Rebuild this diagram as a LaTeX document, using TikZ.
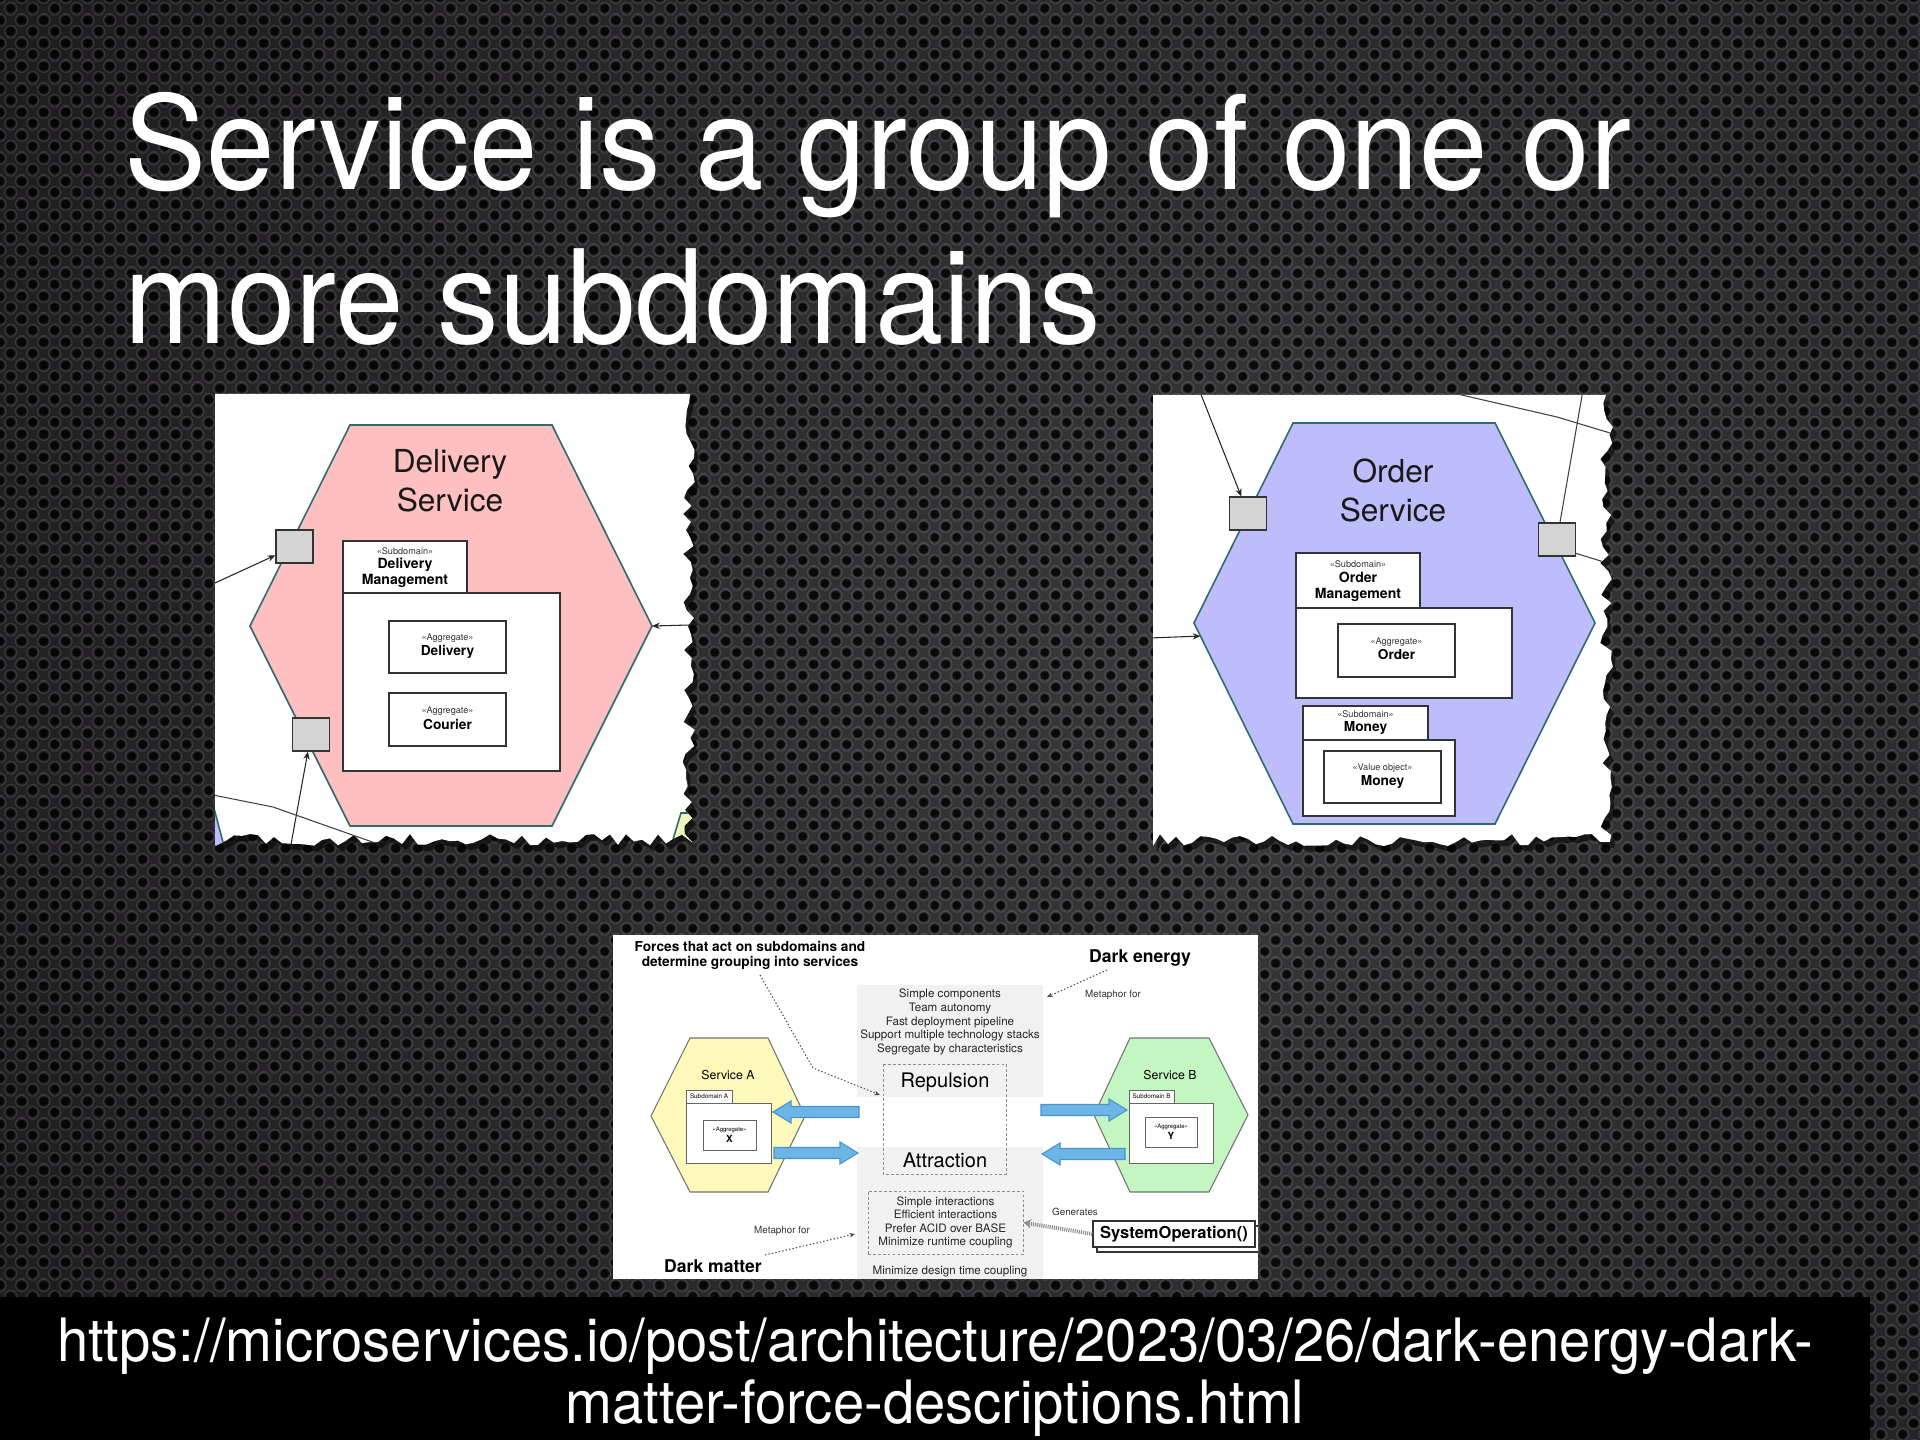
\documentclass[tikz,border=0pt]{standalone}
\usepackage{fontspec}
\setmainfont{TeX Gyre Heros}
\newfontfamily\slidefont[FakeStretch=0.945]{TeX Gyre Heros}
\newfontfamily\linkfont[FakeStretch=0.94]{TeX Gyre Heros}
\usetikzlibrary{arrows.meta,calc,patterns}

\definecolor{bgmid}{HTML}{3A3A3D}
\definecolor{bgedge}{HTML}{0E0B0D}
\definecolor{delpink}{HTML}{FDBFBF}
\definecolor{ordlav}{HTML}{BDBDFB}
\definecolor{hexteal}{HTML}{2F6B6E}
\definecolor{portgrey}{HTML}{D4D4D4}
\definecolor{svcyellow}{HTML}{FDF9BA}
\definecolor{svcgreen}{HTML}{C4F6C1}
\definecolor{forcegrey}{HTML}{F1F1F1}
\definecolor{arrowblue}{HTML}{6CB5E6}
\definecolor{arrowedge}{HTML}{4A93CB}

\pgfdeclarepatternformonly{holes}{\pgfqpoint{0pt}{0pt}}{\pgfqpoint{6.174pt}{6.43pt}}{\pgfqpoint{6.174pt}{6.43pt}}{%
  \pgfpathcircle{\pgfqpoint{3.087pt}{1.6075pt}}{1.25pt}%
  \pgfpathcircle{\pgfqpoint{0pt}{4.8225pt}}{1.25pt}%
  \pgfpathcircle{\pgfqpoint{6.174pt}{4.8225pt}}{1.25pt}%
  \pgfusepath{fill}}
\pgfdeclarepatternformonly{rings}{\pgfqpoint{0pt}{0pt}}{\pgfqpoint{6.174pt}{6.43pt}}{\pgfqpoint{6.174pt}{6.43pt}}{%
  \pgfsetlinewidth{0.3pt}%
  \pgfpathcircle{\pgfqpoint{3.087pt}{1.6075pt}}{1.75pt}%
  \pgfpathcircle{\pgfqpoint{3.087pt}{8.0375pt}}{1.75pt}%
  \pgfpathcircle{\pgfqpoint{0pt}{4.8225pt}}{1.75pt}%
  \pgfpathcircle{\pgfqpoint{6.174pt}{4.8225pt}}{1.75pt}%
  \pgfpathcircle{\pgfqpoint{0pt}{-1.6075pt}}{1.75pt}%
  \pgfpathcircle{\pgfqpoint{6.174pt}{-1.6075pt}}{1.75pt}%
  \pgfusepath{stroke}}

\newcommand\bigarrow[3]{%
  \pgfmathsetmacro\bahead{(#1>#2) ? (#2+18) : (#2-18)}%
  \filldraw[blockarrow] (#1,#3-5.5) -- (\bahead,#3-5.5) -- (\bahead,#3-11) -- (#2,#3) -- (\bahead,#3+11) -- (\bahead,#3+5.5) -- (#1,#3+5.5) -- cycle;}

\def\deliverypaper{(215,394) -- (690,394) \foreach \y in {402,410,...,834} {-- ({689+7*rand},\y)} -- (692,842) \foreach \x in {682,674,...,222} {-- (\x,{840+6*rand})} -- (215,846) -- cycle}
\def\orderpaper{(1153,395) -- (1606,395) \foreach \y in {403,411,...,835} {-- ({1607+7*rand},\y)} -- (1610,842) \foreach \x in {1600,1592,...,1160} {-- (\x,{840+6*rand})} -- (1153,846) -- cycle}

\begin{document}
\begin{tikzpicture}[x=0.01cm,y=-0.01cm,
  titletext/.style={text=white,inner sep=0,font=\slidefont\fontsize{37}{44}\selectfont},
  urltext/.style={text=white,inner sep=0,font=\linkfont\fontsize{17}{20}\selectfont},
  hexline/.style={draw=hexteal,line width=0.45pt},
  boxline/.style={draw=black!80,fill=white,line width=0.35pt},
  port/.style={draw=black!80,fill=portgrey,line width=0.35pt,inner sep=0,minimum width=0.37cm,minimum height=0.33cm},
  conn/.style={draw=black!85,line width=0.3pt,-{Stealth[length=2.2pt,width=1.8pt]}},
  plainline/.style={draw=black!75,line width=0.3pt},
  svctitle/.style={inner sep=0,align=center,text=black!90,font=\fontsize{9}{11.1}\selectfont},
  stereo/.style={inner sep=0,text=black!80,font=\fontsize{2.6}{3}\selectfont},
  subname/.style={inner sep=0,align=center,font=\bfseries\fontsize{4}{4.6}\selectfont},
  aggname/.style={inner sep=0,font=\bfseries\fontsize{3.9}{4.5}\selectfont},
  bhead/.style={inner sep=0,align=center,font=\bfseries\fontsize{3.9}{4.3}\selectfont},
  bsmall/.style={inner sep=0,align=center,text=black!85,font=\fontsize{3.3}{3.85}\selectfont},
  bforce/.style={inner sep=0,font=\fontsize{5.7}{6.5}\selectfont},
  bsvc/.style={inner sep=0,font=\fontsize{3.5}{4}\selectfont},
  btab/.style={inner sep=0,font=\fontsize{1.8}{2.1}\selectfont},
  bster/.style={inner sep=0,font=\fontsize{1.7}{2}\selectfont},
  bagg/.style={inner sep=0,font=\bfseries\fontsize{2.8}{3}\selectfont},
  bdark/.style={inner sep=0,font=\bfseries\fontsize{5}{6}\selectfont},
  bmeta/.style={inner sep=0,text=black!80,font=\fontsize{2.8}{3.2}\selectfont},
  bhex/.style={draw=black!55,line width=0.3pt},
  bbox/.style={draw=black!60,fill=white,line width=0.25pt},
  dashbox/.style={draw=black!45,line width=0.25pt,dash pattern=on 0.8pt off 0.6pt},
  dotarrow/.style={draw=black!70,line width=0.3pt,dash pattern=on 0.4pt off 0.6pt,-{Stealth[length=1.6pt,width=1.3pt]}},
  blockarrow/.style={fill=arrowblue,draw=arrowedge,line width=0.3pt},
  hatcharrow/.style={draw=black!45,line width=1.1pt,dash pattern=on 0.3pt off 0.3pt,-{Stealth[length=2.2pt,width=2.6pt]}},
  sysop/.style={draw=black!80,fill=white,line width=0.35pt,inner sep=0,minimum width=1.62cm,minimum height=0.26cm,font=\bfseries\fontsize{4.7}{5.3}\selectfont}]

  %%%%% BACKGROUND %%%%%
  \useasboundingbox (0,0) rectangle (1920,1440);
  \begin{scope}
    \clip (0,0) rectangle (1920,1440);
    \shade[inner color=bgmid,outer color=bgedge] (-950,-1300) rectangle (3450,2700);
  \end{scope}
  \fill[pattern=rings,pattern color=white,fill opacity=0.12] (0,0) rectangle (1920,1440);
  \fill[pattern=holes,pattern color=black,fill opacity=0.8] (0,0) rectangle (1920,1440);

  \node[titletext,anchor=base west] (title1) at (124,190) {Service is a group of one or};
  \node[titletext,anchor=base west] (title2) at (124,344) {more subdomains};

  %%%%% DELIVERY SERVICE %%%%%
  \pgfmathsetseed{11}
  \fill[black,opacity=0.55,shift={(4,6)}] \deliverypaper;
  \pgfmathsetseed{11}
  \fill[white] \deliverypaper;
  \begin{scope}
    \pgfmathsetseed{11}
    \clip \deliverypaper;
    \filldraw[fill=ordlav,hexline] (215,812) -- (224,846) -- (205,846) -- cycle;
    \filldraw[fill=svcyellow!70!svcgreen,hexline] (695,813) -- (681,813) -- (671,846) -- (695,846) -- cycle;

    \coordinate (dNW) at (350,425);
    \coordinate (dNE) at (552,425);
    \coordinate (dE) at (652,626);
    \coordinate (dSE) at (552,826);
    \coordinate (dSW) at (350,826);
    \coordinate (dW) at (250,626);
    \filldraw[fill=delpink,hexline] (dNW) -- (dNE) -- (dE) -- (dSE) -- (dSW) -- (dW) -- cycle;
    \node[svctitle] (dtitle) at (450,481) {Delivery\\Service};

    \draw[boxline] (343,541) rectangle (467,593);
    \draw[boxline] (343,593) rectangle (560,771);
    \node[stereo] (dsub) at (405,551) {«Subdomain»};
    \node[subname] (dsubname) at (405,573) {Delivery\\Management};

    \draw[boxline] (389,621) rectangle (506,673);
    \node[stereo] (dagg1) at (447.5,638) {«Aggregate»};
    \node[aggname] (dagg1name) at (447.5,652) {Delivery};
    \draw[boxline] (389,693) rectangle (506,746);
    \node[stereo] (dagg2) at (447.5,711) {«Aggregate»};
    \node[aggname] (dagg2name) at (447.5,724) {Courier};

    \node[port] (dport1) at (294.5,546.5) {};
    \node[port] (dport2) at (311,734.5) {};
    \coordinate (din1) at (215,583);
    \coordinate (din2) at (290,850);
    \coordinate (din3) at (690,625);
    \draw[conn] (din1) -- (dport1);
    \draw[conn] (din2) -- (dport2);
    \draw[conn] (din3) -- (dE);
    \coordinate (dl1) at (213,795);
    \coordinate (dl2) at (273,807);
    \coordinate (dl3) at (395,850);
    \draw[plainline] (dl1) -- (dl2) -- (dl3);
  \end{scope}

  %%%%% ORDER SERVICE %%%%%
  \pgfmathsetseed{23}
  \fill[black,opacity=0.55,shift={(4,6)}] \orderpaper;
  \pgfmathsetseed{23}
  \fill[white] \orderpaper;
  \begin{scope}
    \pgfmathsetseed{23}
    \clip \orderpaper;
    \coordinate (oNW) at (1293,423);
    \coordinate (oNE) at (1495,423);
    \coordinate (oE) at (1595,623);
    \coordinate (oSE) at (1495,824);
    \coordinate (oSW) at (1293,824);
    \coordinate (oW) at (1194,623);
    \filldraw[fill=ordlav,hexline] (oNW) -- (oNE) -- (oE) -- (oSE) -- (oSW) -- (oW) -- cycle;
    \node[svctitle] (otitle) at (1393,490) {Order\\Service};

    \draw[boxline] (1296,553) rectangle (1420,608);
    \draw[boxline] (1296,608) rectangle (1512,698);
    \node[stereo] (osub) at (1358,564) {«Subdomain»};
    \node[subname] (osubname) at (1358,586.5) {Order\\Management};
    \draw[boxline] (1338,624) rectangle (1455,677);
    \node[stereo] (oagg) at (1396.5,642) {«Aggregate»};
    \node[aggname] (oaggname) at (1396.5,655) {Order};

    \draw[boxline] (1303,706) rectangle (1428,740);
    \draw[boxline] (1303,740) rectangle (1455,816);
    \node[stereo] (msub) at (1365.5,714) {«Subdomain»};
    \node[aggname] (msubname) at (1365.5,728) {Money};
    \draw[boxline] (1324,751) rectangle (1441,803);
    \node[stereo] (mval) at (1382.5,768) {«Value object»};
    \node[aggname] (mvalname) at (1382.5,782) {Money};

    \coordinate (ol1) at (1583,390);
    \coordinate (ol2) at (1440,390);
    \coordinate (ol3) at (1557,417);
    \coordinate (ol4) at (1620,436);
    \coordinate (ol5) at (1620,567);
    \draw[plainline] (ol2) -- (ol3) -- (ol4);
    \node[port] (oport1) at (1248,513.5) {};
    \draw[plainline] (ol1) -- (1557,539.5);
    \draw[plainline] ($(1557,539.5)+(0,8)$) -- (ol5);
    \node[port] (oport2) at (1557,539.5) {};
    \coordinate (oin1) at (1200,392);
    \coordinate (oin2) at (1150,638);
    \draw[conn] (oin1) -- (oport1);
    \draw[conn] (oin2) -- ($(oW)!0.065!(oSW)$);
  \end{scope}

  %%%%% FORCES %%%%%
  \begin{scope}
    \clip (613,935) rectangle (1258,1279);
    \fill[white] (613,935) rectangle (1258,1279);
    \fill[forcegrey] (857,985) rectangle (1043,1097);
    \fill[forcegrey] (857,1147) rectangle (1043,1279);
    \draw[dashbox] (883,1064) rectangle (1006,1174);

    \node[bhead] (forces) at (750,955) {Forces that act on subdomains and\\determine grouping into services};
    \node[bsmall] (repulforces) at (950,1022) {Simple components\\Team autonomy\\Fast deployment pipeline\\Support multiple technology stacks\\Segregate by characteristics};
    \node[bforce] (repulsion) at (945,1082) {Repulsion};
    \node[bforce] (attraction) at (945,1160) {Attraction};
    \node[dashbox,bsmall,minimum width=1.55cm,minimum height=0.63cm] (attrbox) at (945.5,1222.5) {Simple interactions\\Efficient interactions\\Prefer ACID over BASE\\Minimize runtime coupling};
    \node[bsmall] (design) at (950,1272) {Minimize design time coupling};

    % service A
    \filldraw[fill=svcyellow,bhex] (690,1038) -- (768,1038) -- (805,1116) -- (768,1192) -- (690,1192) -- (651,1116) -- cycle;
    \node[bsvc] (svcA) at (728,1075) {Service A};
    \draw[bbox] (686,1090) rectangle (732,1103);
    \node[btab] (subA) at (709,1096.5) {Subdomain A};
    \draw[bbox] (686,1103) rectangle (771,1163);
    \draw[bbox] (703,1120) rectangle (756,1150);
    \node[bster] (aggA) at (729.5,1130) {«Aggregate»};
    \node[bagg] (aggAname) at (729.5,1139) {X};

    % service B
    \filldraw[fill=svcgreen,bhex] (1130,1038) -- (1209,1038) -- (1248,1115) -- (1209,1192) -- (1130,1192) -- (1094,1115) -- cycle;
    \node[bsvc] (svcB) at (1170,1075) {Service B};
    \draw[bbox] (1129,1090) rectangle (1174,1103);
    \node[btab] (subB) at (1151.5,1096.5) {Subdomain B};
    \draw[bbox] (1129,1103) rectangle (1213,1163);
    \draw[bbox] (1145,1117) rectangle (1197,1147);
    \node[bster] (aggB) at (1171,1127) {«Aggregate»};
    \node[bagg] (aggBname) at (1171,1136) {Y};

    \bigarrow{859}{773}{1112}
    \bigarrow{774}{858}{1153}
    \bigarrow{1041}{1127}{1110}
    \bigarrow{1125}{1042}{1154}

    \node[bdark] (darkenergy) at (1140,958) {Dark energy};
    \node[bmeta] (meta1) at (1113,995) {Metaphor for};
    \node[bdark] (darkmatter) at (713,1266) {Dark matter};
    \node[bmeta] (meta2) at (782,1231) {Metaphor for};
    \coordinate (de1) at (1107,970);
    \coordinate (de2) at (1047,997);
    \draw[dotarrow] (de1) -- (de2);
    \coordinate (dm1) at (765,1255);
    \coordinate (dm2) at (855,1234);
    \draw[dotarrow] (dm1) -- (dm2);
    \coordinate (f1) at (760,975);
    \coordinate (f2) at (813,1068);
    \coordinate (f3) at (880,1095);
    \draw[dotarrow] (f1) -- (f2) -- (f3);

    \draw[boxline] (1097,1226) rectangle (1262,1252);
    \node[sysop] (sysop) at (1174,1234) {SystemOperation()};
    \node[bmeta] (generates) at (1075,1212) {Generates};
    \draw[hatcharrow] (sysop.west) -- (attrbox.east);
  \end{scope}

  %%%%% LINK %%%%%
  \fill[black] (0,1297) rectangle (1870,1440);
  \node[urltext,anchor=base] (url1) at (935,1362) {https://microservices.io/post/architecture/2023/03/26/dark-energy-dark-};
  \node[urltext,anchor=base] (url2) at (935,1424) {matter-force-descriptions.html};
\end{tikzpicture}
\end{document}
